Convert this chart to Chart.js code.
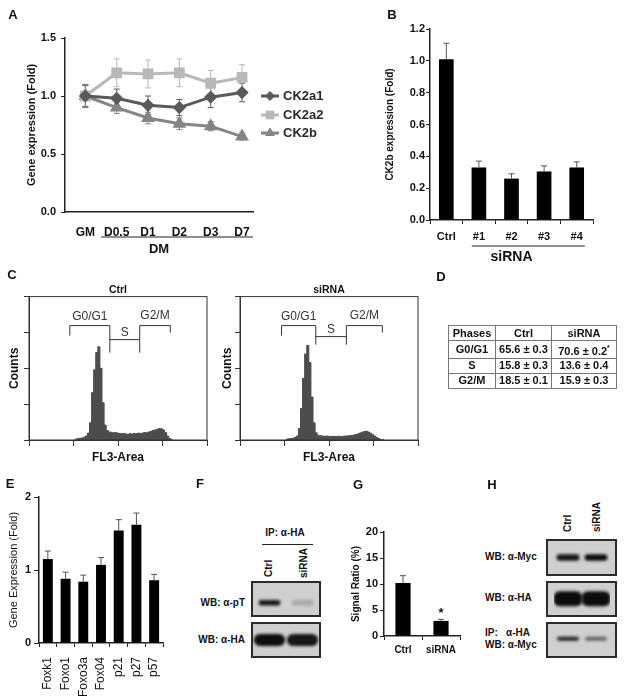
<!DOCTYPE html>
<html>
<head>
<meta charset="utf-8">
<script src="https://cdn.jsdelivr.net/npm/chart.js@4.4.1/dist/chart.umd.min.js"></script>
<style>
  html, body { margin: 0; padding: 0; background: #fff; }
  #fig { position: relative; width: 624px; height: 699px; overflow: hidden; background: #fff;
         font-family: "Liberation Sans", Arial, sans-serif; color: #111; }
  #fig canvas { position: absolute; }
  .txt { position: absolute; white-space: pre; line-height: 1; font-weight: bold; }
  .blot { position: absolute; box-sizing: border-box; border: 2px solid #2b2b2b; background: #cfcfcf; }
  .blot canvas { left: 0; top: 0; }
  #phaseTable { position: absolute; left: 448px; top: 325px; width: 168px; table-layout: fixed;
                border-collapse: collapse; font: bold 11px "Liberation Sans", Arial, sans-serif; color: #111; }
  #phaseTable td { border: 1px solid #777; text-align: center; padding: 0; height: 14px; line-height: 13px; white-space: nowrap; }
  #phaseTable sup { font-size: 7px; }
</style>
</head>
<body>
<div id="fig"></div>
<script>
// A: CK2 subunits during differentiation
const timepoints = ['GM', 'D0.5', 'D1', 'D2', 'D3', 'D7'];
const ck2a1 = [1.00, 0.98, 0.92, 0.90, 0.99, 1.03];
const ck2a1Err = [0.09, 0.08, 0.08, 0.07, 0.09, 0.08];
const ck2a2 = [1.00, 1.20, 1.19, 1.20, 1.11, 1.16];
const ck2a2Err = [0.10, 0.12, 0.12, 0.12, 0.11, 0.11];
const ck2b = [1.00, 0.90, 0.81, 0.76, 0.74, 0.65];
const ck2bErr = [0.10, 0.05, 0.05, 0.05, 0.04, 0.03];

// B: knockdown
const knockdownGroups = ['Ctrl', '#1', '#2', '#3', '#4'];
const ck2bLevel = [1.01, 0.33, 0.26, 0.305, 0.33];
const ck2bLevelErr = [0.10, 0.04, 0.03, 0.035, 0.035];

// C: FL3 histograms
const fl3Bins = [264, 276, 288, 300, 312, 324, 336, 348, 360, 372, 384, 396, 408, 420, 432, 444,
                 456, 468, 480, 492, 504, 516, 528, 540, 552, 564, 576, 588, 600, 612, 624, 636,
                 648, 660, 672, 684, 696, 708, 720, 732, 744, 756, 768, 780, 792, 804, 816, 828];
const ctrlCounts = [2, 3, 5, 6, 7, 10, 14, 24, 60, 165, 245, 305, 325, 250, 130, 52,
                    33, 28, 27, 25, 26, 24, 23, 22, 23, 21, 20, 22, 21, 23, 22, 24,
                    23, 24, 26, 25, 28, 30, 33, 35, 37, 40, 39, 35, 26, 14, 5, 1];
const sirnaCounts = [2, 3, 4, 5, 6, 9, 14, 40, 110, 215, 300, 330, 270, 150, 60, 25,
                     16, 15, 14, 13, 14, 13, 12, 13, 12, 12, 13, 12, 13, 14, 14, 15,
                     16, 17, 19, 21, 24, 27, 29, 31, 28, 24, 19, 14, 9, 5, 2, 1];
const gateNames = ['G0/G1', 'S', 'G2/M'];
const ctrlGates = [[235, 465], [465, 637], [637, 813]];
const sirnaGates = [[239, 436], [436, 612], [612, 819]];

// D: phase table
const phases = ['G0/G1', 'S', 'G2/M'];
const ctrlPhase = [65.6, 15.8, 18.5];
const ctrlPhaseSd = [0.3, 0.3, 0.1];
const sirnaPhase = [70.6, 13.6, 15.9];
const sirnaPhaseSd = [0.2, 0.4, 0.3];
const sirnaPhaseSig = ['*', '', ''];

// E: target genes
const genes = ['Foxk1', 'Foxo1', 'Foxo3a', 'Fox04', 'p21', 'p27', 'p57'];
const geneExpr = [1.15, 0.88, 0.84, 1.07, 1.54, 1.62, 0.86];
const geneExprErr = [0.11, 0.09, 0.09, 0.10, 0.15, 0.16, 0.08];

// F, H: blot band intensities (Ctrl, siRNA)
const lanes = ['Ctrl', 'siRNA'];
const pTBand = [0.95, 0.2];
const haBandF = [1.0, 0.95];
const mycBand = [0.95, 1.0];
const haBandH = [1.0, 1.0];
const ipMycBand = [0.9, 0.55];

// G: signal ratio
const signalRatio = [10.2, 2.9];
const signalRatioErr = [1.4, 0.3];
const signalMarks = ['', '*'];

Chart.defaults.font.family = '"Liberation Sans", Arial, sans-serif';
Chart.defaults.color = '#111';
Chart.defaults.animation = false;
Chart.defaults.responsive = false;
Chart.defaults.plugins.legend.display = false;
Chart.defaults.plugins.tooltip.enabled = false;

const fig = document.getElementById('fig');
const FONT = '"Liberation Sans", Arial, sans-serif';

function makeCanvas(x, y, w, h, parent) {
    const c = document.createElement('canvas');
    c.width = w; c.height = h;
    c.style.left = x + 'px'; c.style.top = y + 'px';
    c.style.width = w + 'px'; c.style.height = h + 'px';
    (parent || fig).appendChild(c);
    return c;
}

function text(str, x, y, opts = {}) {
    const d = document.createElement('div');
    d.className = 'txt';
    d.textContent = str;
    const size = opts.size || 10;
    d.style.fontSize = size + 'px';
    if (opts.weight) d.style.fontWeight = opts.weight;
    d.style.left = x + 'px';
    d.style.top = y + 'px';
    if (opts.vertical) {
        // anchored at bottom-centre, reads upward
        d.style.transformOrigin = '0 0';
        d.style.transform = 'rotate(-90deg) translate(0,-50%)';
    } else {
        const tx = opts.align === 'left' ? '0' : opts.align === 'right' ? '-100%' : '-50%';
        d.style.transform = `translate(${tx},-50%)`;
    }
    fig.appendChild(d);
    return d;
}

const valueOf = v => (typeof v === 'object' ? v.y : v);

function drawErrors(chart, o) {
    const ctx = chart.ctx, ys = chart.scales.y;
    chart.data.datasets.forEach((ds, i) => {
        if (!ds.errors) return;
        const meta = chart.getDatasetMeta(i);
        ctx.save();
        ctx.strokeStyle = o.color || ds.borderColor;
        ctx.lineWidth = o.width || 1;
        meta.data.forEach((el, j) => {
            const v = valueOf(ds.data[j]), e = ds.errors[j];
            const x = el.x;
            const top = ys.getPixelForValue(v + e);
            const bot = ys.getPixelForValue(o.both ? v - e : v);
            ctx.beginPath();
            ctx.moveTo(x, bot); ctx.lineTo(x, top);
            ctx.moveTo(x - o.cap, top); ctx.lineTo(x + o.cap, top);
            if (o.both) { ctx.moveTo(x - o.cap, bot); ctx.lineTo(x + o.cap, bot); }
            ctx.stroke();
            if (ds.marks && ds.marks[j]) {
                ctx.fillStyle = '#111';
                ctx.font = `bold 13px ${FONT}`;
                ctx.textAlign = 'center';
                ctx.textBaseline = 'middle';
                ctx.fillText(ds.marks[j], x, top - 6);
            }
        });
        ctx.restore();
    });
}

const errorBars = {
    id: 'errorBars',
    beforeDatasetsDraw(chart, args, o) { if (o.behind) drawErrors(chart, o); },
    afterDatasetsDraw(chart, args, o) { if (!o.behind) drawErrors(chart, o); }
};

const groupLine = {
    id: 'groupLine',
    afterDraw(chart, args, o) {
        const xs = chart.scales.x, ctx = chart.ctx;
        const y = chart.chartArea.bottom + o.dy;
        ctx.save();
        ctx.strokeStyle = '#222';
        ctx.lineWidth = 1.2;
        ctx.beginPath();
        ctx.moveTo(xs.getPixelForValue(o.from), y);
        ctx.lineTo(xs.getPixelForValue(o.to), y);
        ctx.stroke();
        ctx.restore();
    }
};

const lineLegend = {
    id: 'lineLegend',
    afterDraw(chart, args, o) {
        const ctx = chart.ctx;
        chart.data.datasets.forEach((ds, i) => {
            const y = o.rows[i];
            ctx.save();
            ctx.strokeStyle = ds.borderColor;
            ctx.fillStyle = ds.backgroundColor;
            ctx.lineWidth = 3;
            ctx.beginPath();
            ctx.moveTo(o.x, y); ctx.lineTo(o.x + o.len, y);
            ctx.stroke();
            ctx.lineWidth = 1;
            Chart.helpers.drawPoint(ctx, { pointStyle: ds.pointStyle, radius: ds.pointRadius, borderWidth: 1, rotation: 0 },
                o.x + o.len / 2, y);
            ctx.fillStyle = '#2a2a2a';
            ctx.font = `bold 13px ${FONT}`;
            ctx.textAlign = 'left';
            ctx.textBaseline = 'middle';
            ctx.fillText(ds.label, o.textX, y);
            ctx.restore();
        });
    }
};

const frameBox = {
    id: 'frameBox',
    afterDraw(chart) {
        const { ctx, chartArea: a } = chart;
        ctx.save();
        ctx.strokeStyle = '#333';
        ctx.lineWidth = 1;
        ctx.strokeRect(a.left, a.top, a.right - a.left, a.bottom - a.top);
        ctx.restore();
    }
};

const gateBrackets = {
    id: 'gateBrackets',
    afterDraw(chart, args, o) {
        const ctx = chart.ctx, xs = chart.scales.x, t = chart.chartArea.top;
        const px = v => xs.getPixelForValue(v);
        const [g1, s, g2] = o.gates;
        const yT = t + o.topY, yS = t + o.sY, yB = t + o.bottomY;
        ctx.save();
        ctx.strokeStyle = '#333';
        ctx.lineWidth = 1;
        ctx.beginPath();
        ctx.moveTo(px(g1[0]), t + o.leftLeg); ctx.lineTo(px(g1[0]), yT);
        ctx.lineTo(px(g1[1]), yT); ctx.lineTo(px(g1[1]), yB);
        ctx.moveTo(px(s[0]), yS); ctx.lineTo(px(s[1]), yS);
        ctx.moveTo(px(g2[0]), yB); ctx.lineTo(px(g2[0]), yT);
        ctx.lineTo(px(g2[1]), yT); ctx.lineTo(px(g2[1]), t + o.rightLeg);
        ctx.stroke();
        ctx.fillStyle = '#333';
        ctx.font = `12px ${FONT}`;
        ctx.textAlign = 'center';
        ctx.textBaseline = 'middle';
        ctx.fillText(gateNames[0], (px(g1[0]) + px(g1[1])) / 2, yT - 9);
        ctx.fillText(gateNames[1], (px(s[0]) + px(s[1])) / 2, yS - 7);
        ctx.fillText(gateNames[2], (px(g2[0]) + px(g2[1])) / 2, yT - 10);
        ctx.restore();
    }
};

const bandBlur = {
    id: 'bandBlur',
    beforeDatasetsDraw(chart, args, o) { chart.ctx.save(); chart.ctx.filter = `blur(${o.px}px)`; },
    afterDatasetsDraw(chart) { chart.ctx.restore(); }
};

const axisLine = { color: '#222', width: 1.5 };

// ---------- A ----------
new Chart(makeCanvas(0, 0, 330, 262), {
    type: 'line',
    data: {
        datasets: [
            { label: 'CK2a1', data: ck2a1.map((v, i) => ({ x: i, y: v })), errors: ck2a1Err,
              borderColor: '#5a5a5a', backgroundColor: '#5a5a5a', pointStyle: 'rectRot', pointRadius: 4.5, borderWidth: 3 },
            { label: 'CK2a2', data: ck2a2.map((v, i) => ({ x: i, y: v })), errors: ck2a2Err,
              borderColor: '#b8b8b8', backgroundColor: '#b8b8b8', pointStyle: 'rect', pointRadius: 5.5, borderWidth: 3 },
            { label: 'CK2b', data: ck2b.map((v, i) => ({ x: i, y: v })), errors: ck2bErr,
              borderColor: '#858585', backgroundColor: '#858585', pointStyle: 'triangle', pointRadius: 5, borderWidth: 3 }
        ]
    },
    options: {
        layout: { padding: { left: 0, top: 38, right: 77, bottom: 0 } },
        scales: {
            x: {
                type: 'linear', min: -0.65, max: 5.35,
                afterBuildTicks: s => { s.ticks = timepoints.map((_, i) => ({ value: i })); },
                ticks: { callback: v => timepoints[v], font: { size: 12, weight: 'bold' }, padding: 13, autoSkip: false, maxRotation: 0 },
                grid: { display: false, drawTicks: false },
                border: axisLine,
                title: { display: true, text: 'DM', font: { size: 13, weight: 'bold' }, padding: { top: 0, bottom: 5 } },
                afterFit: s => { s.height = 50; }
            },
            y: {
                min: 0, max: 1.5,
                ticks: { stepSize: 0.5, callback: v => v.toFixed(1), font: { size: 11, weight: 'bold' }, padding: 5 },
                grid: { drawOnChartArea: false, tickLength: 4, color: '#222' },
                border: axisLine,
                title: { display: true, text: 'Gene expression (Fold)', font: { size: 11, weight: 'bold' }, padding: { top: 25, bottom: 0 } },
                afterFit: s => { s.width = 65; }
            }
        },
        plugins: {
            errorBars: { both: true, cap: 3, width: 1, behind: true },
            groupLine: { from: 0.5, to: 5.35, dy: 25 },
            lineLegend: { x: 261, len: 18, textX: 283, rows: [96, 115, 133] }
        }
    },
    plugins: [errorBars, groupLine, lineLegend]
});

// ---------- B ----------
new Chart(makeCanvas(330, 0, 294, 266), {
    type: 'bar',
    data: {
        labels: knockdownGroups,
        datasets: [{ data: ck2bLevel, errors: ck2bLevelErr, backgroundColor: '#000', borderColor: '#000',
                     barPercentage: 0.45, categoryPercentage: 1 }]
    },
    options: {
        layout: { padding: { left: 40, top: 29, right: 31, bottom: 0 } },
        scales: {
            x: {
                ticks: { font: { size: 11, weight: 'bold' }, padding: 6 },
                grid: { drawOnChartArea: false, tickLength: 4, color: '#222' },
                border: axisLine,
                title: { display: true, text: 'siRNA', font: { size: 14, weight: 'bold' }, padding: { top: 0, bottom: 0 } },
                afterFit: s => { s.height = 46; }
            },
            y: {
                min: 0, max: 1.2,
                ticks: { stepSize: 0.2, callback: v => v.toFixed(1), font: { size: 11, weight: 'bold' }, padding: 1 },
                grid: { drawOnChartArea: false, tickLength: 4, color: '#222' },
                border: axisLine,
                title: { display: true, text: 'CK2b expression (Fold)', font: { size: 10, weight: 'bold' }, padding: { top: 14, bottom: 0 } },
                afterFit: s => { s.width = 60; }
            }
        },
        plugins: {
            errorBars: { both: false, cap: 3, width: 1, color: '#555' },
            groupLine: { from: 0.78, to: 4.25, dy: 26 }
        }
    },
    plugins: [errorBars, groupLine]
});

// ---------- C ----------
function histogram(x, title, counts, gates, bracket, titlePadTop) {
    return new Chart(makeCanvas(x, 280, 240, 186), {
        type: 'line',
        data: {
            datasets: [{ data: counts.map((v, i) => ({ x: fl3Bins[i], y: v })), stepped: 'after', fill: 'origin',
                         borderColor: '#4d4d4d', backgroundColor: '#4d4d4d', borderWidth: 1, pointRadius: 0 }]
        },
        options: {
            layout: { padding: { left: 0, top: 0, right: 33, bottom: 0 } },
            scales: {
                x: {
                    type: 'linear', min: 0, max: 1024,
                    ticks: { stepSize: 256, display: false },
                    grid: { drawOnChartArea: false, tickLength: 6, color: '#333' },
                    border: { color: '#333', width: 1 },
                    title: { display: true, text: 'FL3-Area', font: { size: 12, weight: 'bold' }, padding: { top: 0, bottom: 1 } },
                    afterFit: s => { s.height = 26; }
                },
                y: {
                    min: 0, max: 500,
                    ticks: { stepSize: 125, display: false },
                    grid: { drawOnChartArea: false, tickLength: 5, color: '#333' },
                    border: { color: '#333', width: 1 },
                    title: { display: true, text: 'Counts', font: { size: 12, weight: 'bold' }, padding: { top: titlePadTop, bottom: 0 } },
                    afterFit: s => { s.width = 29; }
                }
            },
            plugins: {
                title: { display: true, fullSize: false, text: title, font: { size: 10.5, weight: 'bold' }, color: '#111', padding: { top: 4, bottom: 0 } },
                gateBrackets: Object.assign({ gates }, bracket)
            }
        },
        plugins: [frameBox, gateBrackets]
    });
}
histogram(0, 'Ctrl', ctrlCounts, ctrlGates, { topY: 29, leftLeg: 39, rightLeg: 36, sY: 43, bottomY: 56 }, 7);
histogram(211, 'siRNA', sirnaCounts, sirnaGates, { topY: 29, leftLeg: 39, rightLeg: 36, sY: 40, bottomY: 48 }, 9);

// ---------- D ----------
(function () {
    const t = document.createElement('table');
    t.id = 'phaseTable';
    const cols = document.createElement('colgroup');
    [47, 56, 65].forEach(w => { const c = document.createElement('col'); c.style.width = w + 'px'; cols.appendChild(c); });
    t.appendChild(cols);
    const rows = [['Phases', 'Ctrl', 'siRNA']];
    phases.forEach((p, i) => rows.push([
        p,
        `${ctrlPhase[i].toFixed(1)} ± ${ctrlPhaseSd[i].toFixed(1)}`,
        `${sirnaPhase[i].toFixed(1)} ± ${sirnaPhaseSd[i].toFixed(1)}` + (sirnaPhaseSig[i] ? `<sup>${sirnaPhaseSig[i]}</sup>` : '')
    ]));
    rows.forEach(r => {
        const tr = document.createElement('tr');
        r.forEach(c => { const td = document.createElement('td'); td.innerHTML = c; tr.appendChild(td); });
        t.appendChild(tr);
    });
    fig.appendChild(t);
})();

// ---------- E ----------
new Chart(makeCanvas(0, 480, 190, 219), {
    type: 'bar',
    data: {
        labels: genes,
        datasets: [{ data: geneExpr, errors: geneExprErr, backgroundColor: '#000', borderColor: '#000',
                     barPercentage: 0.56, categoryPercentage: 1 }]
    },
    options: {
        layout: { padding: { left: 0, top: 17, right: 27, bottom: 0 } },
        scales: {
            x: {
                ticks: { font: { size: 12 }, padding: 10, minRotation: 90, maxRotation: 90, autoSkip: false },
                grid: { drawOnChartArea: false, tickLength: 4, color: '#222' },
                border: axisLine,
                afterFit: s => { s.height = 56; }
            },
            y: {
                min: 0, max: 2,
                ticks: { stepSize: 1, font: { size: 11, weight: 'bold' }, padding: 3 },
                grid: { drawOnChartArea: false, tickLength: 5, color: '#222' },
                border: axisLine,
                title: { display: true, text: 'Gene Expression (Fold)', font: { size: 11 }, padding: { top: 7, bottom: 0 } },
                afterFit: s => { s.width = 39; }
            }
        },
        plugins: { errorBars: { both: false, cap: 3, width: 1, color: '#555' } }
    },
    plugins: [errorBars]
});

// ---------- G ----------
new Chart(makeCanvas(330, 480, 140, 186), {
    type: 'bar',
    data: {
        labels: lanes,
        datasets: [{ data: signalRatio, errors: signalRatioErr, marks: signalMarks, backgroundColor: '#000', borderColor: '#000',
                     barPercentage: 0.4, categoryPercentage: 1 }]
    },
    options: {
        layout: { padding: { left: 10, top: 52, right: 10, bottom: 0 } },
        scales: {
            x: {
                ticks: { font: { size: 10, weight: 'bold' }, padding: 4 },
                grid: { drawOnChartArea: false, tickLength: 4, color: '#222' },
                border: axisLine,
                afterFit: s => { s.height = 30; }
            },
            y: {
                min: 0, max: 20,
                ticks: { stepSize: 5, font: { size: 11, weight: 'bold' }, padding: 2 },
                grid: { drawOnChartArea: false, tickLength: 4, color: '#222' },
                border: axisLine,
                title: { display: true, text: 'Signal Ratio (%)', font: { size: 10, weight: 'bold' }, padding: { top: 10, bottom: 0 } },
                afterFit: s => { s.width = 44; }
            }
        },
        plugins: { errorBars: { both: false, cap: 3, width: 1, color: '#555' } }
    },
    plugins: [errorBars]
});

// ---------- blots (F, H) ----------
function blot(x, y, w, h, bands, center, thick, barPct, padL, padR) {
    const box = document.createElement('div');
    box.className = 'blot';
    box.style.left = x + 'px'; box.style.top = y + 'px';
    box.style.width = w + 'px'; box.style.height = h + 'px';
    fig.appendChild(box);
    new Chart(makeCanvas(0, 0, w - 4, h - 4, box), {
        type: 'bar',
        data: {
            labels: lanes,
            datasets: [{ data: bands.map(() => [center - thick / 2, center + thick / 2]),
                         backgroundColor: bands.map(a => `rgba(12,12,12,${a})`),
                         barPercentage: barPct, categoryPercentage: 1, borderRadius: 6, borderSkipped: false }]
        },
        options: {
            layout: { padding: { left: padL, right: padR, top: 0, bottom: 0 } },
            scales: { x: { display: false }, y: { display: false, min: 0, max: 1 } },
            plugins: { bandBlur: { px: 1.4 } }
        },
        plugins: [bandBlur]
    });
}

// F
blot(251, 581, 70, 36, pTBand, 0.38, 0.17, 0.66, 0, 0);
blot(251, 622, 70, 36, haBandF, 0.5, 0.38, 0.95, 0, 0);
text('IP: α-HA', 285, 533, { size: 10 });
const ipLine = document.createElement('div');
ipLine.style.cssText = 'position:absolute;left:262px;top:544px;width:51px;border-top:1.5px solid #222;';
fig.appendChild(ipLine);
text('Ctrl', 269, 577, { size: 10, vertical: true });
text('siRNA', 304, 578, { size: 10, vertical: true });
text('WB: α-pT', 245, 603, { size: 10, align: 'right' });
text('WB: α-HA', 245, 640, { size: 10, align: 'right' });

// H
blot(546, 539, 71, 37, mycBand, 0.5, 0.2, 0.82, 6, 5);
blot(546, 581, 71, 36, haBandH, 0.51, 0.45, 1.0, 6, 5);
blot(546, 622, 71, 36, ipMycBand, 0.54, 0.13, 0.78, 6, 5);
text('Ctrl', 568, 532, { size: 10, vertical: true });
text('siRNA', 597, 532, { size: 10, vertical: true });
text('WB: α-Myc', 485, 557, { size: 10, align: 'left' });
text('WB: α-HA', 485, 598, { size: 10, align: 'left' });
text('IP:   α-HA', 485, 633, { size: 10, align: 'left' });
text('WB: α-Myc', 485, 645, { size: 10, align: 'left' });

// panel letters
[['A', 13, 14], ['B', 392, 14], ['C', 12, 274], ['D', 441, 276],
 ['E', 10, 483], ['F', 200, 483], ['G', 358, 484], ['H', 492, 484]]
    .forEach(([l, x, y]) => text(l, x, y, { size: 13 }));
</script>
</body>
</html>
